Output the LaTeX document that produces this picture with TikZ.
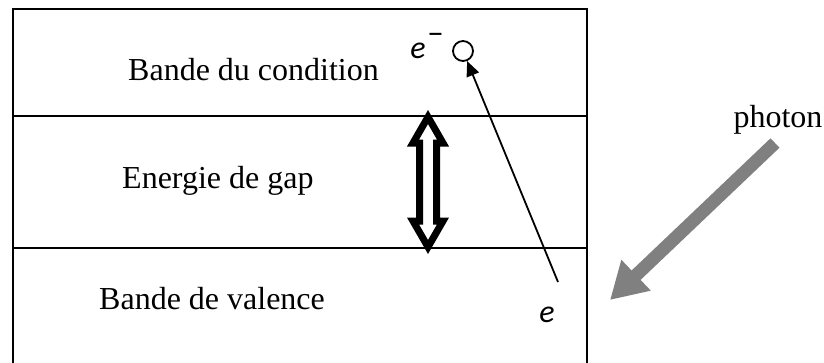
\documentclass[tikz,border=0pt]{standalone}
\usepackage{fontspec}
\setmainfont{Liberation Serif}
\newfontfamily\efont{Carlito}
\usetikzlibrary{arrows.meta}
\tikzset{
  band/.style={line width=1.8pt},
  lbl/.style={inner sep=0pt, anchor=base west, font=\fontsize{32}{38}\selectfont},
  elbl/.style={inner sep=0pt, anchor=base, font=\efont\itshape\fontsize{32}{38}\selectfont},
  gaparrow/.style={draw=black, fill=white, line width=7pt, line join=miter, miter limit=10},
  photonarrow/.style={draw=gray, line width=13pt, -{Triangle[length=36pt,width=40pt]}},
  earrow/.style={line width=1.8pt, -{Triangle[length=15pt,width=13pt]}}
}
\begin{document}
\begin{tikzpicture}[x=1pt,y=-1pt]
\useasboundingbox (0,0) rectangle (824,362);
% outer box (open at bottom)
\draw[line width=2.2pt] (13,370) -- (13,9) -- (587,9) -- (587,370);
\draw[band] (13,116) -- (587,116);
\draw[band] (13,248) -- (587,248);
% texts
\node[lbl] (cond) at (128,80) {Bande du condition};
\node[lbl] (gap) at (122,188) {Energie de gap};
\node[lbl] (val) at (99,309) {Bande de valence};
\node[lbl, anchor=base] (ph) at (778,127) {photon};
% gap double arrow
\draw[gaparrow] (428,117) -- (443,143) -- (436.5,143) -- (436.5,221) -- (443,221) -- (428,247)
  -- (413,221) -- (419.5,221) -- (419.5,143) -- (413,143) -- cycle;
% electron
\node[draw, circle, line width=1.8pt, minimum size=20pt, inner sep=0pt] (el) at (463,51) {};
\node[elbl] (em) at (427,58) {e\raisebox{0.42em}{\upshape\hspace{2pt}−}};
\node[elbl] (e) at (547,322) {e};
\coordinate (estart) at (558,282);
\draw[earrow] (estart) -- (el);
% photon arrow
\coordinate (pstart) at (775,143);
\coordinate (ptip) at (610,300);
\draw[photonarrow] (pstart) -- (ptip);
\end{tikzpicture}
\end{document}
